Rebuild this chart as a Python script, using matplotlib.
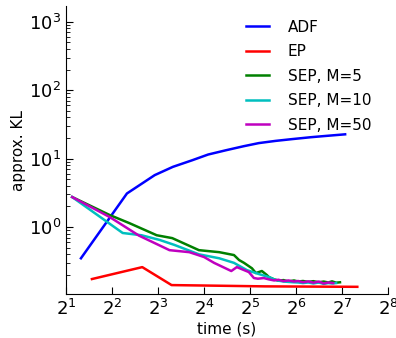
import matplotlib
matplotlib.use("Agg")
import matplotlib.pyplot as plt
from matplotlib.ticker import LogLocator, NullLocator

# values (time in s, approx. KL)
adf_t = [2.5, 5.0, 7.6, 10, 13.4, 17, 22.3, 29, 36.5, 47, 60, 80, 100, 134]
adf_kl = [0.35, 3.1, 5.75, 7.6, 9.5, 11.5, 13.3, 15.2, 16.9, 18.2, 19.3, 20.6, 21.5, 22.7]

ep_t = [2.95, 6.3, 9.8, 20, 40, 80, 161]
ep_kl = [0.174, 0.26, 0.142, 0.139, 0.136, 0.135, 0.134]

sep5_t = [2.19, 3.86, 5.2, 7.83, 9.9, 14.8, 20.1, 25.1, 27.1, 29.2, 32.9, 34.9, 38.2,
          41.1, 42.5, 46, 49, 53, 57, 62, 66, 71, 77, 83, 90, 97, 104, 110, 117, 124]
sep5_kl = [2.75, 1.5, 1.14, 0.76, 0.69, 0.46, 0.43, 0.39, 0.33, 0.30, 0.25, 0.213, 0.228,
           0.20, 0.186, 0.172, 0.165, 0.168, 0.16, 0.166, 0.16, 0.163, 0.158, 0.162, 0.156,
           0.16, 0.155, 0.161, 0.154, 0.156]

sep10_t = [2.19, 4.69, 6.23, 8.17, 10.2, 14.8, 20.1, 25.1, 30.5, 36.5, 42.5, 46, 49, 53,
           57, 62, 66, 71, 77, 83, 90, 97, 104, 110, 117]
sep10_kl = [2.75, 0.82, 0.76, 0.65, 0.55, 0.40, 0.35, 0.30, 0.235, 0.206, 0.186, 0.172,
            0.165, 0.16, 0.158, 0.156, 0.155, 0.152, 0.155, 0.15, 0.155, 0.148, 0.152, 0.15, 0.152]

sep50_t = [2.19, 3.86, 6.0, 9.5, 12.8, 16.0, 18.6, 24.1, 26.2, 31.4, 33.9, 36, 39.3, 42.5,
           46, 49, 53, 57, 62, 66, 71, 77, 83, 90, 97, 104, 112]
sep50_kl = [2.75, 1.4, 0.75, 0.46, 0.43, 0.365, 0.30, 0.228, 0.26, 0.22, 0.18, 0.176, 0.18,
            0.172, 0.166, 0.17, 0.162, 0.166, 0.16, 0.163, 0.156, 0.161, 0.154, 0.16, 0.15,
            0.155, 0.152]

plt.rcParams["font.family"] = "DejaVu Sans"
plt.rcParams["font.size"] = 11

fig = plt.figure(figsize=(3.96, 3.38), dpi=100)
ax = fig.add_axes([0.167, 0.130, 0.813, 0.852])

lw = 1.8
ax.plot(adf_t, adf_kl, color="b", lw=lw, label="ADF")
ax.plot(ep_t, ep_kl, color="r", lw=lw, label="EP")
ax.plot(sep5_t, sep5_kl, color="g", lw=lw, label="SEP, M=5")
ax.plot(sep10_t, sep10_kl, color="c", lw=lw, label="SEP, M=10")
ax.plot(sep50_t, sep50_kl, color="m", lw=lw, label="SEP, M=50")

ax.set_xscale("log", base=2)
ax.set_yscale("log")
ax.set_xlim(2, 256)
ax.set_ylim(0.105, 1700)
ax.xaxis.set_major_locator(LogLocator(base=2, numticks=20))
ax.xaxis.set_minor_locator(NullLocator())
ax.yaxis.set_major_locator(LogLocator(base=10, numticks=10))

for s in ["top", "right"]:
    ax.spines[s].set_visible(False)
ax.tick_params(which="both", direction="in", top=False, right=False)
ax.tick_params(which="major", length=5, labelsize=13)
ax.tick_params(which="minor", length=3)

ax.set_xlabel("time (s)", fontsize=11, labelpad=2)
ax.set_ylabel("approx. KL", fontsize=11, labelpad=2)

ax.legend(loc="upper right", frameon=False, fontsize=11, handlelength=1.5,
          handletextpad=1.2, labelspacing=0.62, bbox_to_anchor=(0.99, 1.0))

fig.savefig("out.png", dpi=100)
